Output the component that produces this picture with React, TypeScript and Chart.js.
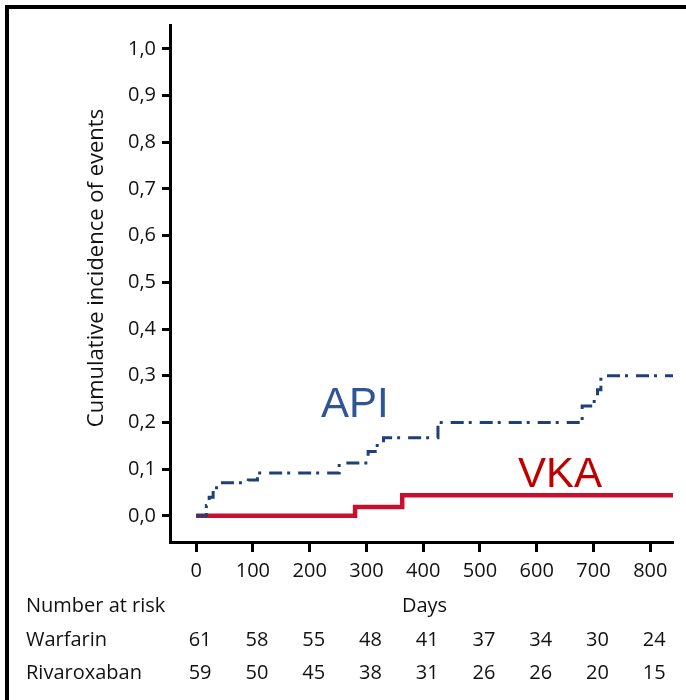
import React, { useEffect, useRef } from 'react';
import { Chart, registerables } from 'chart.js';

Chart.register(...registerables);

// Axis ticks
const DAY_TICKS = [0, 100, 200, 300, 400, 500, 600, 700, 800];
const INCIDENCE_TICKS = [0, 0.1, 0.2, 0.3, 0.4, 0.5, 0.6, 0.7, 0.8, 0.9, 1.0];

// Cumulative incidence curves (event day, cumulative incidence after the event)
const API_DAYS = [0, 18, 23, 30, 36, 92, 108, 252, 303, 319, 330, 426, 680, 695, 707, 713, 840];
const API_INCIDENCE = [0, 0.022, 0.04, 0.055, 0.071, 0.077, 0.092, 0.113, 0.138, 0.157, 0.167, 0.2, 0.235, 0.245, 0.27, 0.3, 0.3];
const VKA_DAYS = [0, 280, 363, 840];
const VKA_INCIDENCE = [0, 0.019, 0.044, 0.044];

// Number-at-risk table
const RISK_GROUPS = ['Warfarin', 'Rivaroxaban'];
const WARFARIN_AT_RISK = [61, 58, 55, 48, 41, 37, 34, 30, 24];
const RIVAROXABAN_AT_RISK = [59, 50, 45, 38, 31, 26, 26, 20, 15];

const API_LINE = '#1f3f78';
const API_TEXT = '#2f5597';
const VKA_LINE = '#c8102e';
const VKA_TEXT = '#c00000';
const TEXT_FONT = '"Open Sans", "DejaVu Sans", sans-serif';

const kmAnnotations = {
  id: 'kmAnnotations',
  afterDraw(chart: any) {
    const { ctx, scales } = chart;
    const x = scales.x;
    const y = scales.y;
    const area = chart.chartArea;
    ctx.save();

    // Curve labels
    ctx.font = '42px "Liberation Sans", Arial, sans-serif';
    ctx.textAlign = 'left';
    ctx.textBaseline = 'alphabetic';
    ctx.fillStyle = API_TEXT;
    ctx.fillText('API', x.getPixelForValue(220), y.getPixelForValue(0.212));
    ctx.fillStyle = VKA_TEXT;
    ctx.fillText('VKA', x.getPixelForValue(567), y.getPixelForValue(0.062));

    ctx.fillStyle = '#111';

    // Y axis title
    ctx.save();
    ctx.font = `22px ${TEXT_FONT}`;
    ctx.translate(97, 268);
    ctx.rotate(-Math.PI / 2);
    ctx.textAlign = 'center';
    ctx.textBaseline = 'middle';
    ctx.fillText('Cumulative incidence of events', 0, 0);
    ctx.restore();

    // X axis title and risk table
    ctx.font = `20px ${TEXT_FONT}`;
    ctx.textBaseline = 'middle';
    const headerY = area.bottom + 64;
    ctx.textAlign = 'center';
    ctx.fillText('Days', (area.left + area.right) / 2 + 3, headerY);
    ctx.textAlign = 'left';
    ctx.fillText('Number at risk', 26, headerY);

    const rows = [WARFARIN_AT_RISK, RIVAROXABAN_AT_RISK];
    rows.forEach((row, r) => {
      const rowY = headerY + 34 + r * 33;
      ctx.textAlign = 'left';
      ctx.fillText(RISK_GROUPS[r], 26, rowY);
      ctx.textAlign = 'center';
      row.forEach((n, i) => {
        ctx.fillText(String(n), x.getPixelForValue(DAY_TICKS[i]) + 4, rowY);
      });
    });
    ctx.restore();
  },
};

export default function App() {
  const canvasRef = useRef<HTMLCanvasElement | null>(null);

  useEffect(() => {
    const canvas = canvasRef.current;
    if (!canvas) return;
    const chart = new Chart(canvas, {
      type: 'line',
      data: {
        datasets: [
          {
            label: 'API',
            data: API_DAYS.map((d, i) => ({ x: d, y: API_INCIDENCE[i] })),
            borderColor: API_LINE,
            borderWidth: 3,
            borderDash: [13, 5, 3, 8],
            stepped: true,
            pointRadius: 0,
            fill: false,
          },
          {
            label: 'VKA',
            data: VKA_DAYS.map((d, i) => ({ x: d, y: VKA_INCIDENCE[i] })),
            borderColor: VKA_LINE,
            borderWidth: 4.5,
            stepped: true,
            pointRadius: 0,
            fill: false,
          },
        ],
      },
      options: {
        responsive: false,
        animation: false,
        devicePixelRatio: 1,
        layout: { padding: { top: 25, right: 13, left: 0, bottom: 0 } },
        plugins: { legend: { display: false }, tooltip: { enabled: false } },
        scales: {
          x: {
            type: 'linear',
            min: -46,
            max: 840,
            afterBuildTicks: (scale: any) => {
              scale.ticks = DAY_TICKS.map((v) => ({ value: v }));
            },
            afterFit: (scale: any) => {
              scale.height = 158;
            },
            grid: {
              drawOnChartArea: false,
              drawTicks: true,
              tickLength: 10,
              tickWidth: 3,
              tickColor: '#000',
            },
            border: { display: true, width: 3, color: '#000' },
            ticks: {
              autoSkip: false,
              maxRotation: 0,
              padding: 7,
              color: '#111',
              font: { family: TEXT_FONT, size: 20 },
              callback: (v: any) => String(v),
            },
          },
          y: {
            type: 'linear',
            min: -0.056,
            max: 1.051,
            afterBuildTicks: (scale: any) => {
              scale.ticks = INCIDENCE_TICKS.map((v) => ({ value: v }));
            },
            afterFit: (scale: any) => {
              scale.width = 170;
            },
            grid: {
              drawOnChartArea: false,
              drawTicks: true,
              tickLength: 8,
              tickWidth: 3,
              tickColor: '#000',
            },
            border: { display: true, width: 3, color: '#000' },
            ticks: {
              padding: 6,
              color: '#111',
              font: { family: TEXT_FONT, size: 20 },
              callback: (v: any) => Number(v).toFixed(1).replace('.', ','),
            },
          },
        },
      },
      plugins: [kmAnnotations],
    });
    return () => chart.destroy();
  }, []);

  return (
    <div
      style={{
        position: 'absolute',
        left: 0,
        top: 0,
        width: 686,
        height: 700,
        overflow: 'hidden',
        background: '#fff',
      }}
    >
      <div
        style={{
          position: 'absolute',
          left: 5,
          top: 5,
          width: 720,
          height: 720,
          borderTop: '4px solid #000',
          borderLeft: '4px solid #000',
        }}
      />
      <canvas
        ref={canvasRef}
        width={686}
        height={700}
        style={{ position: 'absolute', left: 0, top: 0, width: 686, height: 700 }}
      />
    </div>
  );
}
